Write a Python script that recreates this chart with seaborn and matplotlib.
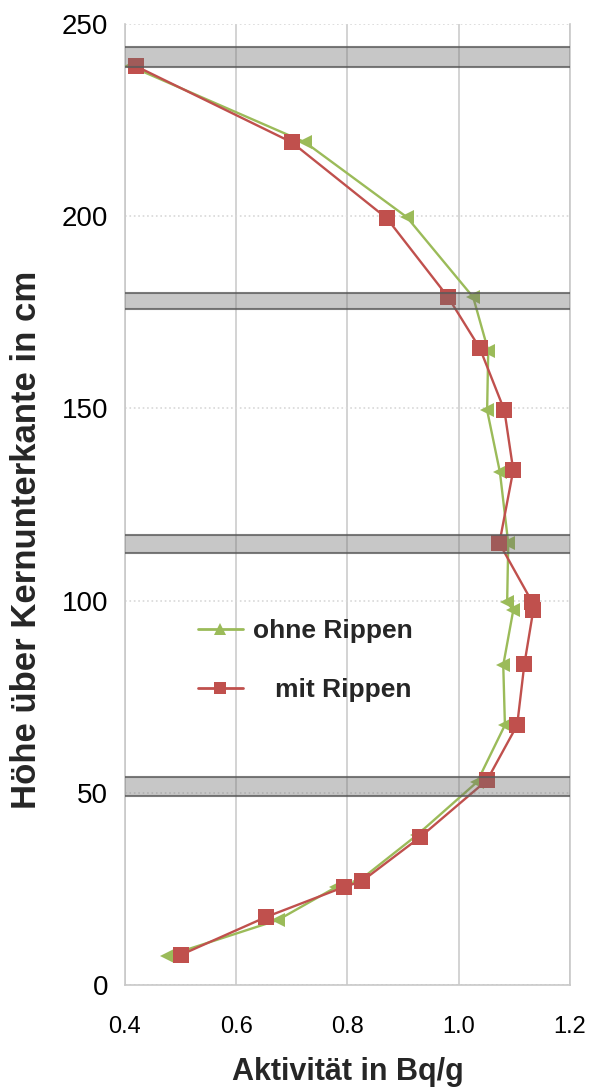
import matplotlib
matplotlib.use("Agg")
import matplotlib.pyplot as plt
import seaborn as sns
from matplotlib.lines import Line2D

# heights (cm) and activities (Bq/g)
hoehe_ohne = [239, 219.2, 199.7, 178.9, 165, 149.5, 133.4, 114.9, 99.6, 97.5,
              83.2, 67.6, 52.8, 39, 27, 25.5, 16.9, 7.5]
akt_ohne = [0.41, 0.724, 0.907, 1.026, 1.053, 1.051, 1.074, 1.089, 1.087, 1.098,
            1.080, 1.083, 1.033, 0.925, 0.82, 0.78, 0.675, 0.475]

hoehe_mit = [239, 219.2, 199.4, 178.9, 165.6, 149.5, 133.9, 114.9, 99.6, 97.5,
             83.5, 67.6, 53.3, 38.5, 27, 25.5, 17.7, 7.8]
akt_mit = [0.42, 0.70, 0.871, 0.981, 1.038, 1.082, 1.098, 1.073, 1.132, 1.134,
           1.118, 1.105, 1.051, 0.931, 0.826, 0.794, 0.654, 0.50]

# grey bands (spacer grids)
baender = [(238.7, 243.9), (175.8, 180.0), (112.3, 117.0), (49.1, 54.0)]

gruen = "#9BBB59"
rot = "#C0504D"

sns.set_theme(style="white")
plt.rcParams["font.family"] = ["Liberation Sans", "DejaVu Sans"]

fig = plt.figure(figsize=(5.95, 10.88), dpi=100)
ax = fig.add_axes([0.21, 0.0947, 0.748, 0.8833])

sns.lineplot(x=akt_ohne, y=hoehe_ohne, sort=False, estimator=None, ax=ax,
             color=gruen, linewidth=1.7, marker="<", markersize=10,
             markeredgewidth=0, zorder=3)
sns.lineplot(x=akt_mit, y=hoehe_mit, sort=False, estimator=None, ax=ax,
             color=rot, linewidth=1.7, marker="s", markersize=11,
             markeredgewidth=0, zorder=4)

for lo, hi in baender:
    ax.axhspan(lo, hi, facecolor="#6e6e6e", alpha=0.38, edgecolor="none", zorder=5)
    ax.axhline(lo, color="#5a5a5a", linewidth=1.5, alpha=0.8, zorder=6)
    ax.axhline(hi, color="#5a5a5a", linewidth=1.5, alpha=0.8, zorder=6)

ax.set_xlim(0.4, 1.2)
ax.set_ylim(0, 250)
ax.set_xticks([0.4, 0.6, 0.8, 1.0, 1.2])
ax.set_xticklabels(["0.4", "0.6", "0.8", "1.0", "1.2"])
ax.set_yticks([0, 50, 100, 150, 200, 250])

ax.xaxis.grid(True, color="#cccccc", linewidth=1.2, linestyle="-")
ax.yaxis.grid(True, color="#d8d8d8", linewidth=1.2, linestyle=":")
ax.set_axisbelow(True)

ax.spines["top"].set_visible(False)
for s in ["left", "bottom", "right"]:
    ax.spines[s].set_color("#c8c8c8")
    ax.spines[s].set_linewidth(1.2)

ax.tick_params(axis="both", colors="black", length=0)
ax.tick_params(axis="x", labelsize=17, pad=22)
ax.tick_params(axis="y", labelsize=20, pad=12)

ax.set_xlabel("Aktivität in Bq/g", fontsize=22, fontweight="bold", labelpad=14)
ax.set_ylabel("Höhe über Kernunterkante in cm", fontsize=25, fontweight="bold")
ax.yaxis.set_label_coords(-0.184, 0.463)

handles = [
    Line2D([0], [0], color=gruen, linewidth=2, marker="^", markersize=8,
           markeredgewidth=0),
    Line2D([0], [0], color=rot, linewidth=2, marker="s", markersize=8,
           markeredgewidth=0),
]
leg = ax.legend(handles, ["ohne Rippen", "   mit Rippen"], loc="upper left",
                bbox_to_anchor=(0.11, 0.405), frameon=False, fontsize=19,
                labelspacing=1.3, handlelength=1.7, handletextpad=0.4)
for t in leg.get_texts():
    t.set_fontweight("bold")

fig.savefig("out.png", dpi=100)
